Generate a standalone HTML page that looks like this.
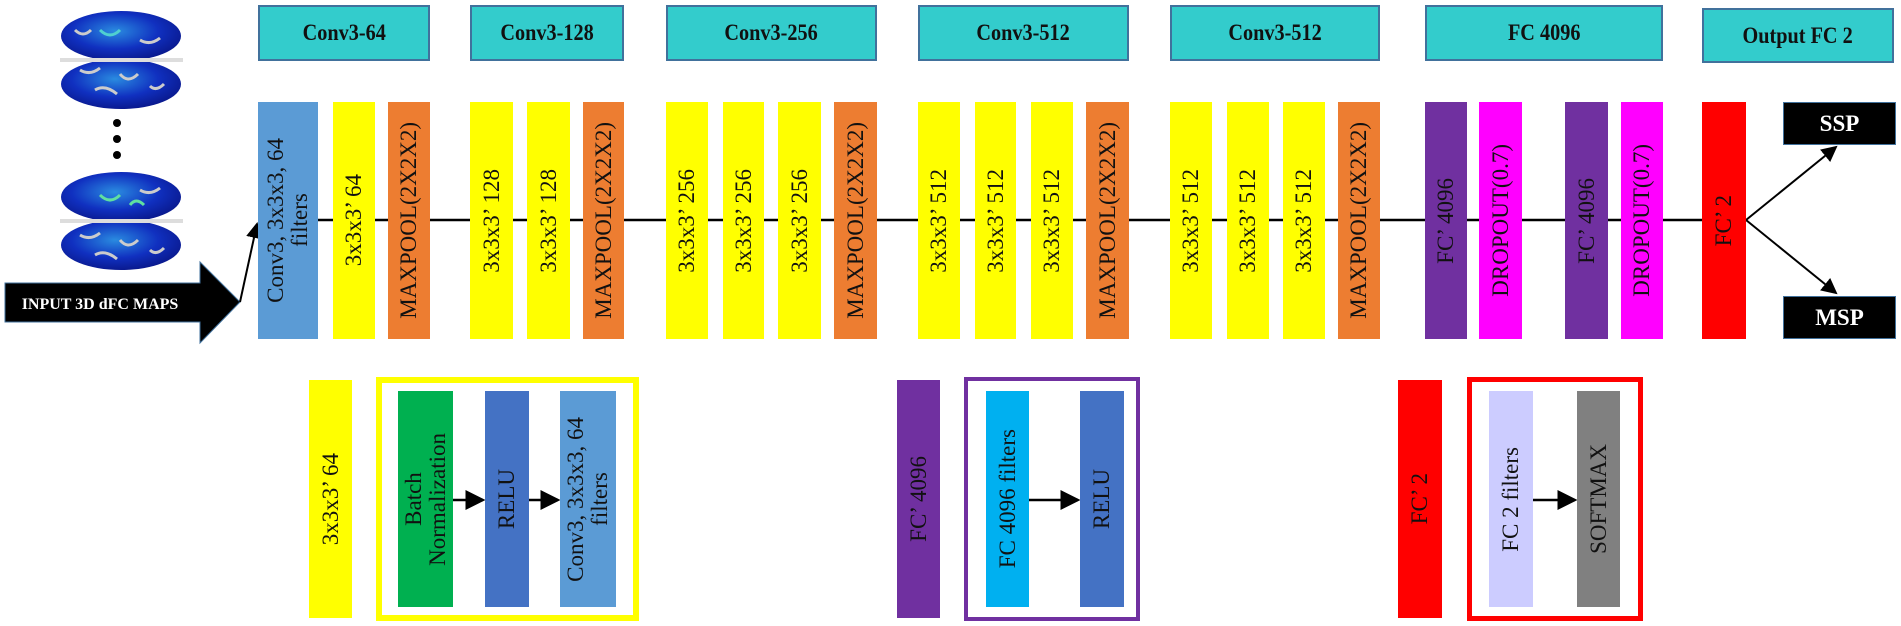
<!DOCTYPE html>
<html><head><meta charset="utf-8"><style>
*{margin:0;padding:0;box-sizing:border-box}
body{width:1901px;height:626px;background:#fff;position:relative;overflow:hidden;font-family:"Liberation Serif",serif}
.h{position:absolute;top:5px;height:56px;background:#33CCCC;border:2px solid #41719C;display:flex;align-items:center;justify-content:center;font-weight:bold;font-size:23px;color:#111}
.h span{display:inline-block;transform:scaleX(0.88)}
.b{position:absolute;top:102px;height:237px;display:flex;align-items:center;justify-content:center}
.b span,.s span{writing-mode:vertical-rl;transform:rotate(180deg);font-size:23px;color:#111;white-space:nowrap;text-align:center;line-height:24px}
.y{background:#FFFF00}.o{background:#ED7D31}.p{background:#7030A0}.m{background:#FF00FF}.r{background:#FF0000}
.s{position:absolute;top:391px;height:216px;display:flex;align-items:center;justify-content:center}
.sb{position:absolute;top:380px;height:238px;display:flex;align-items:center;justify-content:center}
.sb span{writing-mode:vertical-rl;transform:rotate(180deg);font-size:23px;color:#111;white-space:nowrap}
.fr{position:absolute;top:377px;height:244px}
.out{position:absolute;left:1783px;width:113px;height:43px;background:#000;color:#fff;font-weight:bold;font-size:23px;display:flex;align-items:center;justify-content:center;border:1px solid #41719C}
</style></head><body>
<svg width="1901" height="626" style="position:absolute;left:0;top:0">
<defs><marker id="a" markerWidth="8" markerHeight="8" refX="7" refY="4" orient="auto"><path d="M0,0 L8,4 L0,8 z" fill="#000"/></marker>
<radialGradient id="g" cx="45%" cy="40%" r="60%"><stop offset="0" stop-color="#2a8be0"/><stop offset="0.6" stop-color="#1030c0"/><stop offset="1" stop-color="#0a1a90"/></radialGradient></defs>
<line x1="296" y1="220" x2="1746" y2="220" stroke="#000" stroke-width="2.5"/>
<g>
<ellipse cx="121" cy="36" rx="60" ry="25" fill="url(#g)"/>
<ellipse cx="121" cy="84" rx="60" ry="25" fill="url(#g)"/>
<rect x="60" y="58" width="123" height="4" fill="#ddd"/>
<path d="M80 70 q10 6 20 -2 M120 74 q8 10 18 0 M95 90 q10 -6 22 4 M140 40 q10 6 20 -2 M75 30 q8 8 16 0 M150 86 q6 6 14 -2" stroke="#ccc" stroke-width="3" fill="none"/>
<path d="M100 30 q10 10 20 0" stroke="#4fd0d0" stroke-width="3" fill="none"/>
<ellipse cx="121" cy="197" rx="60" ry="25" fill="url(#g)"/>
<ellipse cx="121" cy="245" rx="60" ry="25" fill="url(#g)"/>
<rect x="60" y="219" width="123" height="4" fill="#ddd"/>
<path d="M80 235 q10 6 20 -2 M120 240 q8 10 18 0 M95 255 q10 -6 22 4 M140 190 q10 6 20 -2 M150 250 q6 6 14 -2" stroke="#ccc" stroke-width="3" fill="none"/>
<path d="M100 195 q10 10 20 0 M130 205 q6 -8 14 0" stroke="#5fe0a0" stroke-width="3" fill="none"/>
<circle cx="117" cy="123" r="4" fill="#000"/><circle cx="117" cy="139" r="4" fill="#000"/><circle cx="117" cy="155" r="4" fill="#000"/>
</g>
<path d="M5 283 H200 V262 L240 302 L200 343 V322 H5 Z" fill="#000" stroke="#41719C" stroke-width="1"/>
<text x="100" y="309" font-family="Liberation Serif" font-weight="bold" font-size="16" fill="#fff" text-anchor="middle">INPUT 3D dFC MAPS</text>
<line x1="240" y1="302" x2="257" y2="224" stroke="#000" stroke-width="2" marker-end="url(#a)"/>
<line x1="1746" y1="220" x2="1836" y2="147" stroke="#000" stroke-width="2" marker-end="url(#a)"/>
<line x1="1746" y1="220" x2="1836" y2="293" stroke="#000" stroke-width="2" marker-end="url(#a)"/>
<line x1="453" y1="500" x2="483" y2="500" stroke="#000" stroke-width="2.5" marker-end="url(#a)"/>
<line x1="529" y1="500" x2="558" y2="500" stroke="#000" stroke-width="2.5" marker-end="url(#a)"/>
<line x1="1029" y1="500" x2="1078" y2="500" stroke="#000" stroke-width="2.5" marker-end="url(#a)"/>
<line x1="1533" y1="500" x2="1575" y2="500" stroke="#000" stroke-width="2.5" marker-end="url(#a)"/>
</svg>

<div class="h" style="left:258px;width:172px"><span>Conv3-64</span></div>
<div class="h" style="left:470px;width:154px"><span>Conv3-128</span></div>
<div class="h" style="left:666px;width:211px"><span>Conv3-256</span></div>
<div class="h" style="left:918px;width:211px"><span>Conv3-512</span></div>
<div class="h" style="left:1170px;width:210px"><span>Conv3-512</span></div>
<div class="h" style="left:1425px;width:238px"><span>FC 4096</span></div>
<div class="h" style="left:1702px;top:8px;width:192px;height:55px"><span>Output FC 2</span></div>

<div class="b" style="left:258px;width:60px;background:#5B9BD5"><span>Conv3, 3x3x3, 64<br>filters</span></div>
<div class="b y" style="left:333px;width:42px"><span>3x3x3’ 64</span></div>
<div class="b o" style="left:388px;width:42px"><span>MAXPOOL(2X2X2)</span></div>
<div class="b y" style="left:470px;width:43px"><span>3x3x3’ 128</span></div>
<div class="b y" style="left:527px;width:43px"><span>3x3x3’ 128</span></div>
<div class="b o" style="left:583px;width:41px"><span>MAXPOOL(2X2X2)</span></div>
<div class="b y" style="left:666px;width:42px"><span>3x3x3’ 256</span></div>
<div class="b y" style="left:723px;width:41px"><span>3x3x3’ 256</span></div>
<div class="b y" style="left:778px;width:43px"><span>3x3x3’ 256</span></div>
<div class="b o" style="left:834px;width:43px"><span>MAXPOOL(2X2X2)</span></div>
<div class="b y" style="left:918px;width:42px"><span>3x3x3’ 512</span></div>
<div class="b y" style="left:975px;width:41px"><span>3x3x3’ 512</span></div>
<div class="b y" style="left:1031px;width:42px"><span>3x3x3’ 512</span></div>
<div class="b o" style="left:1086px;width:43px"><span>MAXPOOL(2X2X2)</span></div>
<div class="b y" style="left:1170px;width:42px"><span>3x3x3’ 512</span></div>
<div class="b y" style="left:1227px;width:42px"><span>3x3x3’ 512</span></div>
<div class="b y" style="left:1283px;width:42px"><span>3x3x3’ 512</span></div>
<div class="b o" style="left:1338px;width:42px"><span>MAXPOOL(2X2X2)</span></div>
<div class="b p" style="left:1425px;width:42px"><span>FC’ 4096</span></div>
<div class="b m" style="left:1479px;width:43px"><span>DROPOUT(0.7)</span></div>
<div class="b p" style="left:1565px;width:43px"><span>FC’ 4096</span></div>
<div class="b m" style="left:1621px;width:42px"><span>DROPOUT(0.7)</span></div>
<div class="b r" style="left:1702px;width:44px"><span>FC’ 2</span></div>
<div class="out" style="top:102px">SSP</div>
<div class="out" style="top:296px">MSP</div>

<div class="sb y" style="left:309px;width:43px"><span>3x3x3’ 64</span></div>
<div class="fr" style="left:376px;width:263px;border:6px solid #FFFF00"></div>
<div class="s" style="left:398px;width:55px;background:#00B050"><span>Batch<br>Normalization</span></div>
<div class="s" style="left:485px;width:44px;background:#4472C4"><span>RELU</span></div>
<div class="s" style="left:560px;width:56px;background:#5B9BD5"><span>Conv3, 3x3x3, 64<br>filters</span></div>

<div class="sb p" style="left:897px;width:43px"><span>FC’ 4096</span></div>
<div class="fr" style="left:964px;width:176px;border:4px solid #7030A0"></div>
<div class="s" style="left:986px;width:43px;background:#00B0F0"><span>FC 4096 filters</span></div>
<div class="s" style="left:1080px;width:44px;background:#4472C4"><span>RELU</span></div>

<div class="sb r" style="left:1398px;width:44px"><span>FC’ 2</span></div>
<div class="fr" style="left:1467px;width:176px;border:5px solid #FF0000"></div>
<div class="s" style="left:1489px;width:44px;background:#CCCCFF"><span>FC 2 filters</span></div>
<div class="s" style="left:1577px;width:43px;background:#808080"><span>SOFTMAX</span></div>
</body></html>
